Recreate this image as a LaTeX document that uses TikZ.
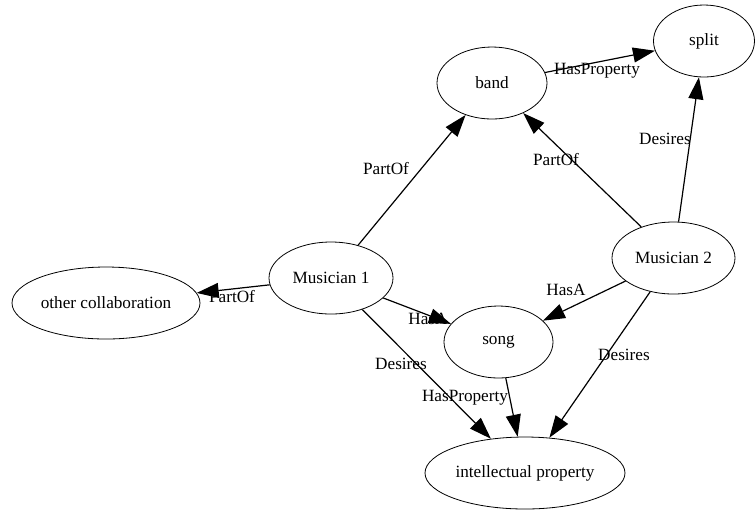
\documentclass[tikz,border=0pt]{standalone}
\usepackage{fontspec}
\setmainfont{Liberation Serif}
\usetikzlibrary{shapes,arrows.meta}
\tikzset{
  concept/.style  = {draw, ellipse, thin, inner sep=0pt, minimum height=36pt, font=\fontsize{8.6}{10}\selectfont},
  relation/.style = {draw, semithick, -{Triangle[length=11pt,width=7.5pt]}},
  rel/.style      = {inner sep=0pt, font=\fontsize{8.6}{10}\selectfont}
}

\begin{document}
\begin{tikzpicture}[x=0.5pt, y=-0.5pt]
    \useasboundingbox (0,0) rectangle (756,511);

    \node [concept, minimum width=55pt]   (band)  at (492,83)    {band};
    \node [concept, minimum width=50.5pt] (split) at (704,41)    {split};
    \node [concept, minimum width=62pt]   (m1)    at (331,278)   {Musician 1};
    \node [concept, minimum width=61.5pt] (m2)    at (673.5,258) {Musician 2};
    \node [concept, minimum width=94pt]   (other) at (106,303)   {other collaboration};
    \node [concept, minimum width=54.5pt] (song)  at (498.5,342) {song};
    \node [concept, minimum width=100pt]  (ip)    at (525,473)   {intellectual property};

    \draw [relation] (m1) -- (band)    node [rel] at (386,169) {PartOf};
    \draw [relation] (band) -- (split) node [rel] at (597,71)  {HasProperty};
    \draw [relation] (m2) -- (band)    node [rel] at (556,160) {PartOf};
    \draw [relation] (m2) -- (split)   node [rel] at (665,139) {Desires};
    \draw [relation] (m1) -- (other)   node [rel] at (232,297) {PartOf};
    \draw [relation] (m1) -- (song)    node [rel] at (428,319) {HasA};
    \draw [relation] (m2) -- (song)    node [rel] at (566,290) {HasA};
    \draw [relation] (m1) -- (ip)      node [rel] at (401,364) {Desires};
    \draw [relation] (song) -- (ip)    node [rel] at (465,398) {HasProperty};
    \draw [relation] (m2) -- (ip)      node [rel] at (624,355) {Desires};
\end{tikzpicture}
\end{document}
